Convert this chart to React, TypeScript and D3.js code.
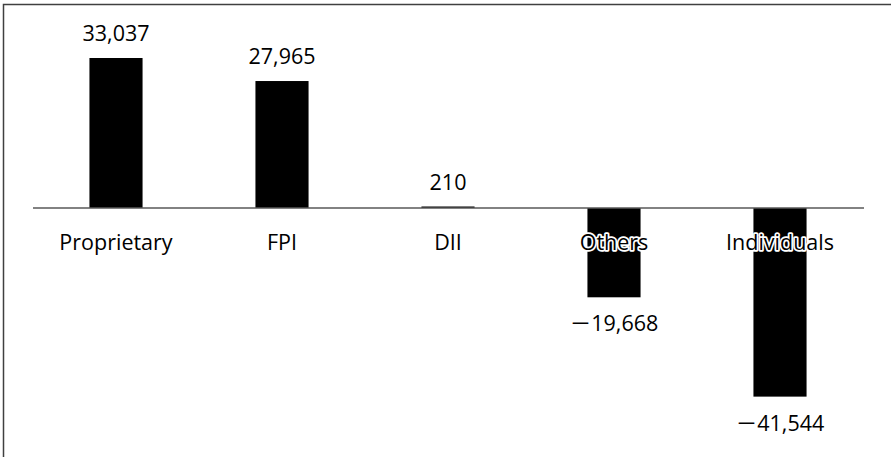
import React from "react";
import * as d3 from "d3";

const categories = ["Proprietary", "FPI", "DII", "Others", "Individuals"];
const values = [33037, 27965, 210, -19668, -41544];

const W = 891;
const H = 457;
const FONT = '"Segoe UI", "Open Sans", "Noto Sans", "Noto Sans CJK JP", sans-serif';

const fmt = (v: number) => {
  const s = d3.format(",")(Math.abs(v));
  return v < 0 ? "\uFF0D" + s : s;
};

export default function App() {
  const x = d3.scaleBand<string>().domain(categories).range([33, 863]).paddingInner(0.68).paddingOuter(0.34);
  const y = d3.scaleLinear().domain([-45000, 35000]).range([208 + 45000 * (150 / 33037), 208 - 35000 * (150 / 33037)]);
  const y0 = y(0);

  return (
    <svg width={W} height={H} style={{ position: "absolute", left: 0, top: 0 }}>
      <rect x={0} y={0} width={W} height={H} fill="#fff" />
      {/* frame: top and left edges */}
      <path d={`M3.5,${H} V4.5 H${W}`} fill="none" stroke="#404040" strokeWidth={1.5} />
      {values.map((v, i) => {
        const c = categories[i];
        const bx = x(c)!;
        const h = Math.max(Math.abs(y(v) - y0), 1.5);
        return <rect key={c} x={bx} y={v >= 0 ? y0 - h : y0} width={x.bandwidth()} height={h} fill="#000" />;
      })}
      <line x1={33} x2={864} y1={y0} y2={y0} stroke="#595959" strokeWidth={1.5} />
      {values.map((v, i) => {
        const c = categories[i];
        const cx = x(c)! + x.bandwidth() / 2;
        const ty = v >= 0 ? Math.min(y(v), y0 - 1.5) - 17 : y(v) + 34;
        return (
          <text key={"v" + c} x={cx} y={ty} textAnchor="middle" fontFamily={FONT} fontSize={21.5} fill="#000">
            {fmt(v)}
          </text>
        );
      })}
      {categories.map((c) => {
        const cx = x(c)! + x.bandwidth() / 2;
        return (
          <text
            key={"c" + c}
            x={cx}
            y={250}
            textAnchor="middle"
            fontFamily={FONT}
            fontSize={21.5}
            fill="#000"
            stroke="#fff"
            strokeWidth={3.5}
            paintOrder="stroke"
            strokeLinejoin="round"
          >
            {c}
          </text>
        );
      })}
    </svg>
  );
}
